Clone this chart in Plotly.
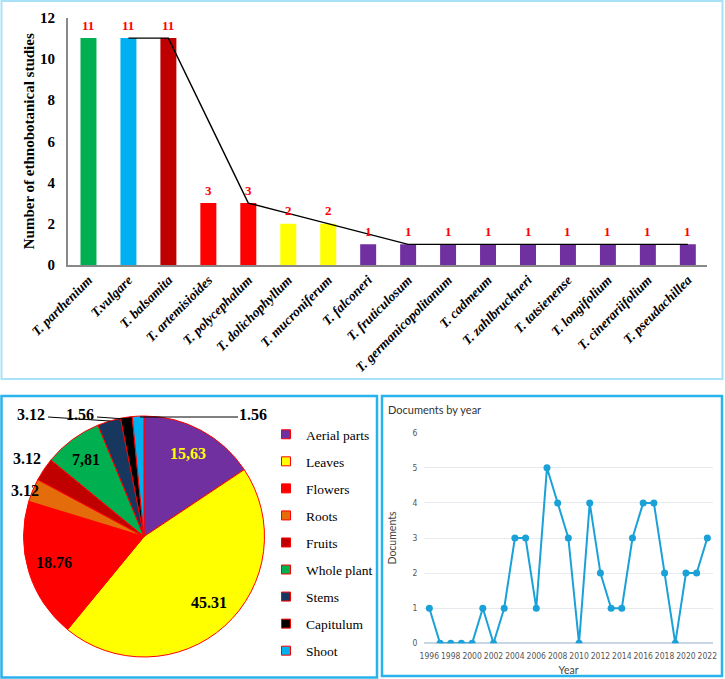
import plotly.graph_objects as go

W, H = 725, 679

# ---------------- data ----------------
species = ["T. parthenium", "T.vulgare", "T. balsamita", "T. artemisioides", "T. polycephalum",
           "T. dolichophyllum", "T. mucroniferum", "T. falconeri", "T. fruticulosum",
           "T. germanicopolitanum", "T. cadmeum", "T. zahlbruckneri", "T. tatsienense",
           "T. longifolium", "T. cinerariifolium", "T. pseudachillea"]
studies = [11, 11, 11, 3, 3, 2, 2, 1, 1, 1, 1, 1, 1, 1, 1, 1]
bar_colors = ["#00B050", "#00B0F0", "#C00000", "#FF0000", "#FF0000", "#FFFF00", "#FFFF00",
              "#7030A0", "#7030A0", "#7030A0", "#7030A0", "#7030A0", "#7030A0", "#7030A0",
              "#7030A0", "#7030A0"]

parts = ["Aerial parts", "Leaves", "Flowers", "Roots", "Fruits", "Whole plant", "Stems",
         "Capitulum", "Shoot"]
part_pct = [15.63, 45.31, 18.76, 3.12, 3.12, 7.81, 3.12, 1.56, 1.56]
part_text = ["15,63", "45.31", "18.76", "3.12", "3.12", "7,81", "3.12", "1.56", "1.56"]
part_colors = ["#7030A0", "#FFFF00", "#FF0000", "#E46C0A", "#C00000", "#00B050", "#17375E",
               "#000000", "#00B0F0"]

years = list(range(1996, 2023))
documents = [1, 0, 0, 0, 0, 1, 0, 1, 3, 3, 1, 5, 4, 3, 0, 4, 2, 1, 1, 3, 4, 4, 2, 0, 2, 2, 3]

# 2-period moving average trendline of the bar values
ma_x = species[1:]
ma_y = [(studies[i - 1] + studies[i]) / 2 for i in range(1, len(studies))]


def px(x):
    return x / W


def py(y):
    return 1 - y / H


fig = go.Figure()

# ---------------- bar chart ----------------
fig.add_trace(go.Bar(x=species, y=studies, marker=dict(color=bar_colors, line=dict(width=0)),
                     width=0.4, showlegend=False, hoverinfo="x+y", xaxis="x", yaxis="y"))
fig.add_trace(go.Scatter(x=ma_x, y=ma_y, mode="lines", line=dict(color="black", width=1.4),
                         showlegend=False, hoverinfo="skip", xaxis="x", yaxis="y"))

annotations = []
for s, v in zip(species, studies):
    annotations.append(dict(x=s, y=v, xref="x", yref="y", text=str(v), showarrow=False,
                            yanchor="middle", yshift=13,
                            font=dict(family="Liberation Serif", size=13, color="#FF0000",
                                      weight="bold")))

# ---------------- pie chart ----------------
fig.add_trace(go.Pie(labels=parts, values=part_pct, sort=False, direction="clockwise",
                     rotation=0, textinfo="none", showlegend=False,
                     marker=dict(colors=part_colors, line=dict(color="#FF0000", width=1)),
                     domain=dict(x=[px(23.5), px(264.5)], y=[py(657), py(416)])))

# legend entries for pie (one per slice)
for name, col in zip(parts, part_colors):
    fig.add_trace(go.Scatter(x=[None], y=[None], mode="markers", name=name, legendgroup=name,
                             marker=dict(symbol="square", size=9, color=col,
                                         line=dict(color="#FF0000", width=1)),
                             xaxis="x3", yaxis="y3", hoverinfo="skip"))

pie_label_pos = [(188, 453), (209, 602), (54, 562), (25, 490), (27, 458), (86, 459),
                 (31, 414), (80, 414), (253, 414)]
pie_label_colors = ["#FFFF00", "black", "black", "black", "black", "black", "black", "black",
                    "black"]
for t, (lx, ly), c in zip(part_text, pie_label_pos, pie_label_colors):
    annotations.append(dict(x=px(lx), y=py(ly), xref="paper", yref="paper", text=t,
                            showarrow=False, xanchor="center", yanchor="middle",
                            font=dict(family="Liberation Serif", size=16, color=c,
                                      weight="bold")))

# ---------------- line chart ----------------
fig.add_trace(go.Scatter(x=years, y=documents, mode="lines+markers",
                         line=dict(color="#1AA1D8", width=2),
                         marker=dict(color="#1AA1D8", size=7), showlegend=False,
                         xaxis="x2", yaxis="y2"))

annotations.append(dict(x=px(386), y=py(409), xref="paper", yref="paper",
                        text="Documents by year", showarrow=False, xanchor="left",
                        yanchor="middle", font=dict(family="Lato", size=11, color="#333333")))

shapes = [
    # panel borders
    dict(type="rect", xref="paper", yref="paper", x0=px(1.5), x1=px(722.5), y0=py(379),
         y1=py(1), line=dict(color="#A9E2F7", width=2)),
    dict(type="rect", xref="paper", yref="paper", x0=px(1.5), x1=px(377), y0=py(677.5),
         y1=py(396), line=dict(color="#29B3EC", width=2.5)),
    dict(type="rect", xref="paper", yref="paper", x0=px(382), x1=px(722), y0=py(676),
         y1=py(396), line=dict(color="#29B3EC", width=2.5)),
    # pie leader lines
    dict(type="line", xref="paper", yref="paper", x0=px(48), y0=py(417), x1=px(110),
         y1=py(421), line=dict(color="black", width=1)),
    dict(type="line", xref="paper", yref="paper", x0=px(97), y0=py(417), x1=px(125),
         y1=py(419), line=dict(color="black", width=1)),
    dict(type="line", xref="paper", yref="paper", x0=px(238), y0=py(417), x1=px(140),
         y1=py(417), line=dict(color="black", width=1)),
]

serif_bold = dict(family="Liberation Serif", size=15, color="black", weight="bold")
narrow = "Liberation Sans Narrow, DejaVu Sans Condensed, sans-serif"

fig.update_layout(
    width=W, height=H, margin=dict(l=0, r=0, t=0, b=0, autoexpand=False),
    paper_bgcolor="white", plot_bgcolor="white",
    annotations=annotations, shapes=shapes,
    xaxis=dict(domain=[px(67.7), px(707)], range=[-0.52, 15.48], showgrid=False,
               showline=True, linecolor="#898989", linewidth=1.5, ticks="", tickangle=-45,
               tickfont=dict(family="Liberation Serif", size=13.5, color="black",
                             weight="bold", style="italic"),
               anchor="y", fixedrange=True, automargin=False),
    yaxis=dict(domain=[py(265), py(17.5)], range=[0, 12], dtick=2, showgrid=False,
               showline=True, linecolor="#898989", linewidth=1.5, zeroline=False,
               ticks="outside", ticklen=8, tickcolor="rgba(0,0,0,0)", tickfont=serif_bold,
               title=dict(text="Number of ethnobotanical studies", font=serif_bold, standoff=2),
               anchor="x", fixedrange=True, automargin=False),
    xaxis2=dict(domain=[px(424), px(713)], range=[1995.5, 2022.53], tickvals=years[::2],
                showgrid=False, showline=False, zeroline=False, ticks="outside", ticklen=4,
                tickcolor="rgba(0,0,0,0)", tickangle=0,
                tickfont=dict(family=narrow, size=8.5, color="#555555"),
                title=dict(text="Year", font=dict(family="Lato", size=10.5, color="#444444"),
                           standoff=7),
                anchor="y2", fixedrange=True, automargin=False),
    yaxis2=dict(domain=[py(643.3), py(432.7)], range=[0, 6], dtick=1, showgrid=True,
                gridcolor="#E6EAEF", gridwidth=1, zeroline=True, zerolinecolor="#C9D7E4",
                zerolinewidth=1.5, showline=False, ticks="outside", ticklen=4,
                tickcolor="rgba(0,0,0,0)",
                tickfont=dict(family=narrow, size=8.5, color="#555555"),
                title=dict(text="Documents",
                           font=dict(family="Lato", size=10.5, color="#444444"),
                           standoff=13),
                anchor="x2", fixedrange=True, automargin=False),
    xaxis3=dict(domain=[0, 0.01], visible=False, anchor="y3"),
    yaxis3=dict(domain=[0, 0.01], visible=False, anchor="x3"),
    legend=dict(x=px(266), y=py(419), xanchor="left", yanchor="top", tracegroupgap=6.5,
                font=dict(family="Liberation Serif", size=13.5, color="black"),
                bgcolor="rgba(0,0,0,0)", itemclick=False, itemdoubleclick=False),
)

fig.write_html("out.html", post_script="document.body.style.margin='0';",
               config={"displayModeBar": False})
